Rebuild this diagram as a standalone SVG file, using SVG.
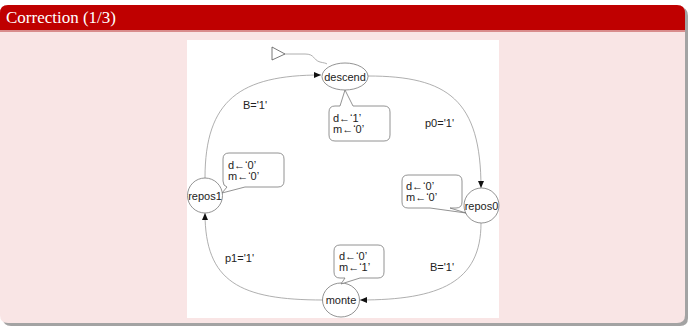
<svg xmlns="http://www.w3.org/2000/svg" width="689" height="327" viewBox="0 0 689 327">
<defs>
<style>
.edge{fill:none;stroke:#9a9a9a;stroke-width:0.8}
.shape{fill:#fff;stroke:#777;stroke-width:0.8}
.lbl{font-family:"Liberation Sans",Arial,sans-serif;font-size:11px;fill:#222}
.nl{font-family:"Liberation Sans",Arial,sans-serif;font-size:11px;fill:#222;text-anchor:middle}
</style>
<marker id="ah" markerUnits="userSpaceOnUse" markerWidth="8" markerHeight="6" refX="7" refY="3" orient="auto">
<path d="M0,0 L7,3 L0,6 Z" fill="#111"/>
</marker>
</defs>
<!-- frame -->
<path d="M3,8 Q3,7 9,7 L679,7 Q688,7 688,16 L688,318 Q688,326 680,326 L11,326 Q3,326 3,318 Z" fill="#8c8c8c" opacity="0.8"/>
<path d="M0,13 Q0,5 8,5 L677,5 Q685,5 685,13 L685,315 Q685,323 677,323 L8,323 Q0,323 0,315 Z" fill="#f9e5e5"/>
<path d="M0,13 Q0,5 8,5 L677,5 Q685,5 685,13 L685,30 L0,30 Z" fill="#bf0000"/>
<rect x="0" y="30" width="685" height="2" fill="#d98c8c"/>
<text x="6" y="23" font-family="Liberation Serif,Times New Roman,serif" font-size="17" fill="#fff">Correction (1/3)</text>
<rect x="187" y="40" width="312" height="278" fill="#fff"/>
<!-- connectors -->
<g id="connectors">
<path class="edge" d="M285,54 L305,54 C315,54 313,60 320,62 C324,63 326,63 327,64"/>
<path class="edge" d="M368,76 C448,76 481,100 481,188" marker-end="url(#ah)"/>
<path class="edge" d="M481,223 C481,282 440,300 360,300" marker-end="url(#ah)"/>
<path class="edge" d="M323,300 C240,300 205,282 205,213" marker-end="url(#ah)"/>
<path class="edge" d="M205,178 C205,100 240,75 321,75" marker-end="url(#ah)"/>
<text class="lbl" x="425" y="127">p0='1'</text>
<text class="lbl" x="430" y="271">B='1'</text>
<text class="lbl" x="225" y="262">p1='1'</text>
<text class="lbl" x="243" y="109">B='1'</text>
</g>
<g id="init">
<path d="M272,47 L285,54 L272,60 Z" fill="#fff" stroke="#555" stroke-width="0.8"/>
</g>
<g id="descend">
<ellipse class="shape" cx="345" cy="76.5" rx="23" ry="13.5"/>
<text class="nl" x="345" y="80.5">descend</text>
</g>
<g id="repos0">
<circle class="shape" cx="481.5" cy="205.5" r="17.5"/>
<text class="nl" x="481.5" y="209.5">repos0</text>
</g>
<g id="repos1">
<circle class="shape" cx="205" cy="195.5" r="17.5"/>
<text class="nl" x="205" y="199.5">repos1</text>
</g>
<g id="monte">
<ellipse class="shape" cx="341" cy="300" rx="18.5" ry="17"/>
<text class="nl" x="341" y="304">monte</text>
</g>
<g id="note-descend">
<path class="shape" d="M335,106 L340,106 L345,90 L353,106 L384,106 Q390,106 390,112 L390,135 Q390,141 384,141 L335,141 Q329,141 329,135 L329,112 Q329,106 335,106 Z"/>
<text class="lbl" x="333" y="122">d←‘1’</text>
<text class="lbl" x="333" y="133">m←‘0’</text>
</g>
<g id="note-repos1">
<path class="shape" d="M229,153 L278,153 Q284,153 284,159 L284,181 Q284,187 278,187 L245,187 L222,193 L227,187 Q223,186 223,181 L223,159 Q223,153 229,153 Z"/>
<text class="lbl" x="228" y="169">d←‘0’</text>
<text class="lbl" x="228" y="180">m←‘0’</text>
</g>
<g id="note-repos0">
<path class="shape" d="M408,175 L456,175 Q462,175 462,181 L462,202 Q462,208 456,208 L450,208 L466,213 L430,208 L408,208 Q402,208 402,202 L402,181 Q402,175 408,175 Z"/>
<text class="lbl" x="406" y="190">d←‘0’</text>
<text class="lbl" x="406" y="201">m←‘0’</text>
</g>
<g id="note-monte">
<path class="shape" d="M340,245 L378,245 Q384,245 384,251 L384,272 Q384,278 378,278 L360,278 L341,284 L345,278 L340,278 Q334,278 334,272 L334,251 Q334,245 340,245 Z"/>
<text class="lbl" x="339" y="260">d←‘0’</text>
<text class="lbl" x="339" y="271">m←‘1’</text>
</g>
</svg>
